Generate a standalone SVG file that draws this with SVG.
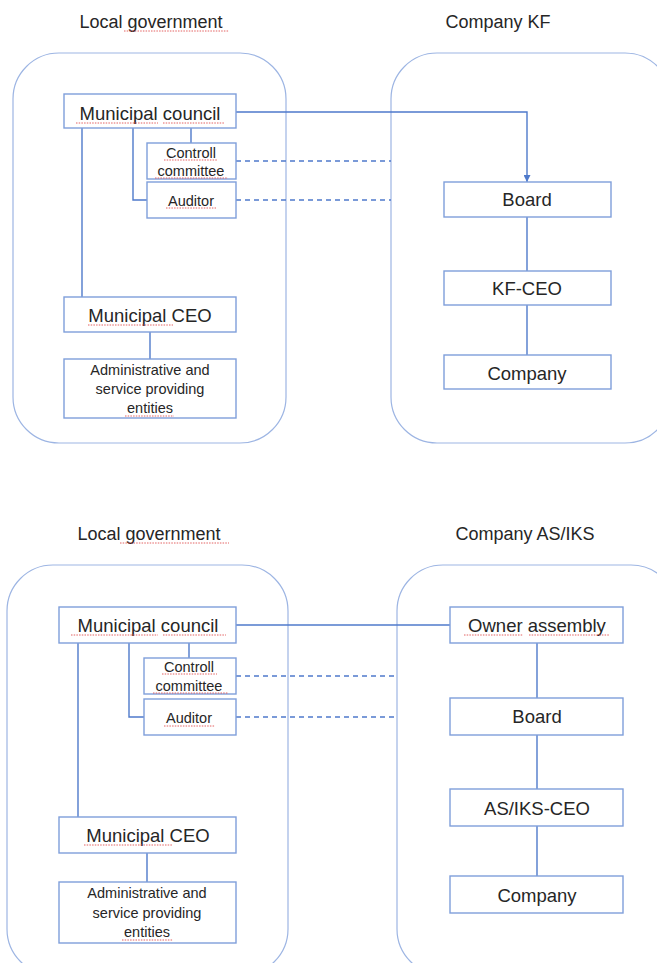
<svg xmlns="http://www.w3.org/2000/svg" width="657" height="963" viewBox="0 0 657 963">
<style>
.bg{fill:#ffffff}
.cont{fill:none;stroke:#9db5e3;stroke-width:1.2}
.box{fill:#ffffff;stroke:#7f9fdb;stroke-width:1.4}
.ln{fill:none;stroke:#4f7acb;stroke-width:1.4}
.ds{fill:none;stroke:#4f7acb;stroke-width:1.4;stroke-dasharray:5,4}
.t{font-family:"Liberation Sans",Arial,sans-serif;fill:#262626;text-anchor:middle}
.L{font-size:18.5px}
.T{font-size:18px}
.S{font-size:14.5px}
.sq{fill:none;stroke:#e05050;stroke-width:0.9;stroke-dasharray:1.5,1.2}
</style>
<defs>
<marker id="arr" viewBox="0 0 8 8" refX="8" refY="4" markerWidth="7" markerHeight="7" orient="auto" markerUnits="userSpaceOnUse">
<path d="M0,0 L8,4 L0,8 z" fill="#4f7acb"/>
</marker>
</defs>
<rect class="bg" x="0" y="0" width="657" height="963"/>

<!-- containers -->
<g id="containers">
<rect id="lg1" class="cont" x="13" y="53" width="273" height="390" rx="46"/>
<rect id="kf" class="cont" x="391" y="53" width="280" height="390" rx="46"/>
<rect id="lg2" class="cont" x="7" y="565" width="281" height="410" rx="46"/>
<rect id="asiks" class="cont" x="397" y="565" width="280" height="410" rx="46"/>
</g>

<!-- titles -->
<text class="t T" x="151" y="28">Local government</text>
<text class="t T" x="498" y="28">Company KF</text>
<text class="t T" x="149" y="540">Local government</text>
<text class="t T" x="525" y="540">Company AS/IKS</text>

<!-- connectors -->
<g id="connectors">
<polyline class="ln" points="236,112 527,112 527,182" marker-end="url(#arr)"/>
<line class="ln" x1="191" y1="128" x2="191" y2="143"/>
<polyline class="ln" points="133,128 133,200 147,200"/>
<line class="ln" x1="82" y1="128" x2="82" y2="297"/>
<line class="ln" x1="150" y1="332" x2="150" y2="359"/>
<line class="ds" x1="236" y1="161" x2="391" y2="161"/>
<line class="ds" x1="236" y1="200" x2="391" y2="200"/>
<line class="ln" x1="527" y1="217" x2="527" y2="271"/>
<line class="ln" x1="527" y1="305" x2="527" y2="355"/>

<line class="ln" x1="236" y1="625" x2="450" y2="625"/>
<line class="ln" x1="189" y1="643" x2="189" y2="658"/>
<polyline class="ln" points="129,643 129,717 144,717"/>
<line class="ln" x1="78" y1="643" x2="78" y2="817"/>
<line class="ln" x1="147" y1="853" x2="147" y2="882"/>
<line class="ds" x1="236" y1="676" x2="397" y2="676"/>
<line class="ds" x1="236" y1="717" x2="397" y2="717"/>
<line class="ln" x1="537" y1="643" x2="537" y2="698"/>
<line class="ln" x1="537" y1="735" x2="537" y2="789"/>
<line class="ln" x1="537" y1="826" x2="537" y2="876"/>
</g>

<!-- top nodes -->
<g id="mc1"><rect class="box" x="64" y="94" width="172" height="34"/><text class="t L" x="150" y="120">Municipal council</text></g>
<g id="cc1"><rect class="box" x="147" y="143" width="89" height="36"/><text class="t S" x="191" y="158">Controll</text><text class="t S" x="191" y="176">committee</text></g>
<g id="au1"><rect class="box" x="147" y="182" width="89" height="36"/><text class="t S" x="191" y="206">Auditor</text></g>
<g id="mceo1"><rect class="box" x="64" y="297" width="172" height="35"/><text class="t L" x="150" y="322">Municipal CEO</text></g>
<g id="adm1"><rect class="box" x="64" y="359" width="172" height="59"/><text class="t S" x="150" y="375">Administrative and</text><text class="t S" x="150" y="394">service providing</text><text class="t S" x="150" y="413">entities</text></g>
<g id="board1"><rect class="box" x="444" y="182" width="167" height="35"/><text class="t L" x="527" y="206">Board</text></g>
<g id="kfceo"><rect class="box" x="444" y="271" width="167" height="34"/><text class="t L" x="527" y="295">KF-CEO</text></g>
<g id="comp1"><rect class="box" x="444" y="355" width="167" height="34"/><text class="t L" x="527" y="380">Company</text></g>

<!-- bottom nodes -->
<g id="mc2"><rect class="box" x="59" y="607" width="177" height="36"/><text class="t L" x="148" y="632">Municipal council</text></g>
<g id="cc2"><rect class="box" x="144" y="658" width="92" height="36"/><text class="t S" x="189" y="672">Controll</text><text class="t S" x="189" y="691">committee</text></g>
<g id="au2"><rect class="box" x="144" y="699" width="92" height="36"/><text class="t S" x="189" y="723">Auditor</text></g>
<g id="mceo2"><rect class="box" x="59" y="817" width="177" height="36"/><text class="t L" x="148" y="842">Municipal CEO</text></g>
<g id="adm2"><rect class="box" x="59" y="882" width="177" height="61"/><text class="t S" x="147" y="898">Administrative and</text><text class="t S" x="147" y="918">service providing</text><text class="t S" x="147" y="937">entities</text></g>
<g id="owner"><rect class="box" x="450" y="607" width="173" height="36"/><text class="t L" x="537" y="632">Owner assembly</text></g>
<g id="board2"><rect class="box" x="450" y="698" width="173" height="37"/><text class="t L" x="537" y="723">Board</text></g>
<g id="asceo"><rect class="box" x="450" y="789" width="173" height="37"/><text class="t L" x="537" y="815">AS/IKS-CEO</text></g>
<g id="comp2"><rect class="box" x="450" y="876" width="173" height="37"/><text class="t L" x="537" y="902">Company</text></g>

<!-- spell-check underlines -->
<g id="squiggles">
<line class="sq" x1="124" y1="31" x2="229" y2="31"/>
<line class="sq" x1="76" y1="123" x2="158" y2="123"/>
<line class="sq" x1="163" y1="123" x2="225" y2="123"/>
<line class="sq" x1="164" y1="160" x2="217" y2="160"/>
<line class="sq" x1="155" y1="178" x2="228" y2="178"/>
<line class="sq" x1="166" y1="208" x2="216" y2="208"/>
<line class="sq" x1="88" y1="325" x2="173" y2="325"/>
<line class="sq" x1="125" y1="416" x2="174" y2="416"/>
<line class="sq" x1="120" y1="543" x2="229" y2="543"/>
<line class="sq" x1="71" y1="635" x2="158" y2="635"/>
<line class="sq" x1="163" y1="635" x2="226" y2="635"/>
<line class="sq" x1="162" y1="674" x2="217" y2="674"/>
<line class="sq" x1="153" y1="693" x2="228" y2="693"/>
<line class="sq" x1="164" y1="726" x2="215" y2="726"/>
<line class="sq" x1="84" y1="845" x2="172" y2="845"/>
<line class="sq" x1="122" y1="940" x2="173" y2="940"/>
<line class="sq" x1="464" y1="635" x2="523" y2="635"/>
<line class="sq" x1="529" y1="635" x2="610" y2="635"/>
</g>
</svg>
